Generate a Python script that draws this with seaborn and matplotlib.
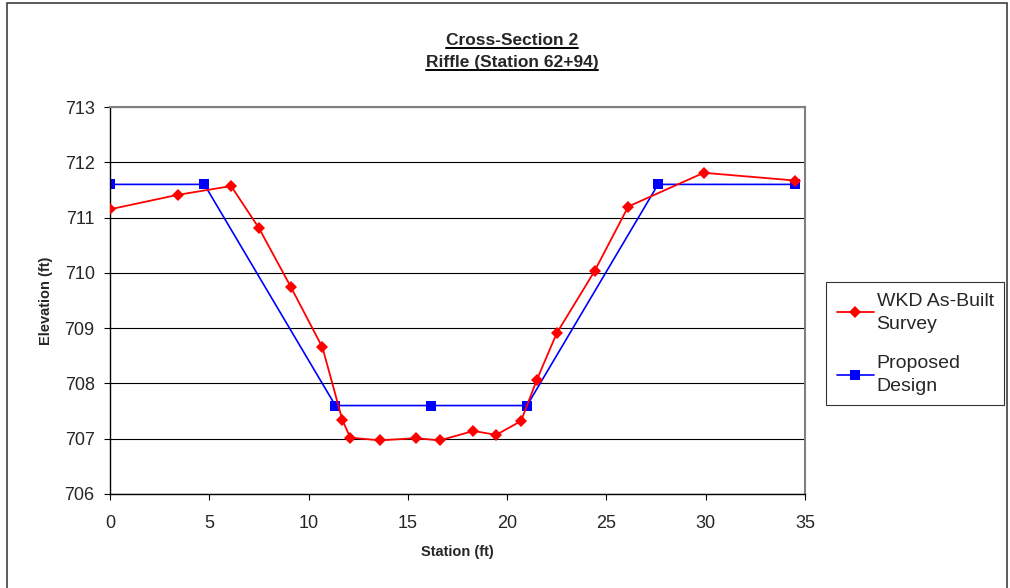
import matplotlib
matplotlib.use("Agg")
import matplotlib.pyplot as plt
import seaborn as sns
from matplotlib.lines import Line2D
from matplotlib.patches import Rectangle

# data
survey_station = [0.0, 3.4, 6.1, 7.5, 9.1, 10.7, 11.7, 12.1, 13.6, 15.4, 16.6,
                  18.3, 19.45, 20.7, 21.5, 22.5, 24.4, 26.1, 29.9, 34.5]
survey_elev = [711.15, 711.41, 711.57, 710.81, 709.75, 708.65, 707.34, 707.02,
               706.97, 707.01, 706.97, 707.14, 707.07, 707.32, 708.07, 708.91,
               710.03, 711.2, 711.81, 711.67]
design_station = [0.0, 4.75, 11.35, 16.15, 21.0, 27.6, 34.5]
design_elev = [711.6, 711.6, 707.6, 707.6, 707.6, 711.6, 711.6]

series_names = ["WKD As-Built\nSurvey", "Proposed\nDesign"]
title_lines = ["Cross-Section 2", "Riffle (Station 62+94)"]

sns.set_style("white")
plt.rcParams["font.family"] = ["Liberation Sans", "DejaVu Sans"]

W, H = 1010, 588
fig = plt.figure(figsize=(W / 100, H / 100), dpi=100)
ax = fig.add_axes([110 / W, 1 - 494 / H, 695 / W, 387 / H])

sns.lineplot(x=survey_station, y=survey_elev, ax=ax, sort=False, color="#FF0000",
             marker="D", markersize=6.5, markeredgewidth=0, linewidth=1.3,
             label=series_names[0], zorder=3)
sns.lineplot(x=design_station, y=design_elev, ax=ax, sort=False, color="#0000FF",
             marker="s", markersize=7.5, markeredgewidth=0, linewidth=1.2,
             label=series_names[1], zorder=2)

ax.set_xlim(0, 35)
ax.set_ylim(706, 713)
ax.set_xticks(range(0, 36, 5))
ax.set_yticks(range(706, 714))
ax.yaxis.grid(True, color="black", linewidth=0.8)
ax.xaxis.grid(False)
ax.tick_params(axis="both", direction="out", length=4, width=0.8, color="black",
               labelsize=13, left=True, bottom=True)
ax.tick_params(axis="x", pad=11)
ax.tick_params(axis="y", pad=7)
for side in ["left", "bottom"]:
    ax.spines[side].set_color("black")
    ax.spines[side].set_linewidth(1.0)
for side in ["top", "right"]:
    ax.spines[side].set_color("#808080")
    ax.spines[side].set_linewidth(1.5)

ax.set_xlabel("Station (ft)", fontsize=10.5, fontweight="bold", va="center")
ax.set_ylabel("Elevation (ft)", fontsize=10.5, fontweight="bold", va="center")
ax.xaxis.set_label_coords(0.5, (494 - 552) / 387)
ax.yaxis.set_label_coords((46 - 110) / 695, 0.5)

leg = ax.legend(loc="upper left", bbox_to_anchor=(826 / W, 1 - 282 / H),
                bbox_transform=fig.transFigure, fontsize=14, frameon=True,
                fancybox=False, borderpad=0.55, labelspacing=1.15,
                handlelength=1.9, handletextpad=0.15, borderaxespad=0)
leg.get_frame().set_edgecolor("black")
leg.get_frame().set_linewidth(0.8)
for t in leg.get_texts():
    t.set_linespacing(1.45)

# title lines with underline
fig.canvas.draw()
renderer = fig.canvas.get_renderer()
for txt, yy in zip(title_lines, [45, 67]):
    t = fig.text(512 / W, 1 - yy / H, txt, ha="center", va="baseline",
                 fontsize=12.5, fontweight="bold")
    bb = t.get_window_extent(renderer=renderer)
    y_line = (H - yy) - 3
    fig.add_artist(Line2D([bb.x0 / W, bb.x1 / W], [y_line / H, y_line / H],
                          color="black", linewidth=1.4, transform=fig.transFigure))

# outer chart border
fig.add_artist(Rectangle((7 / W, -0.01), 1000 / W, 1 - 3 / H + 0.01,
                         transform=fig.transFigure, fill=False,
                         edgecolor="#404040", linewidth=1.2))

fig.savefig("out.png", dpi=100)
